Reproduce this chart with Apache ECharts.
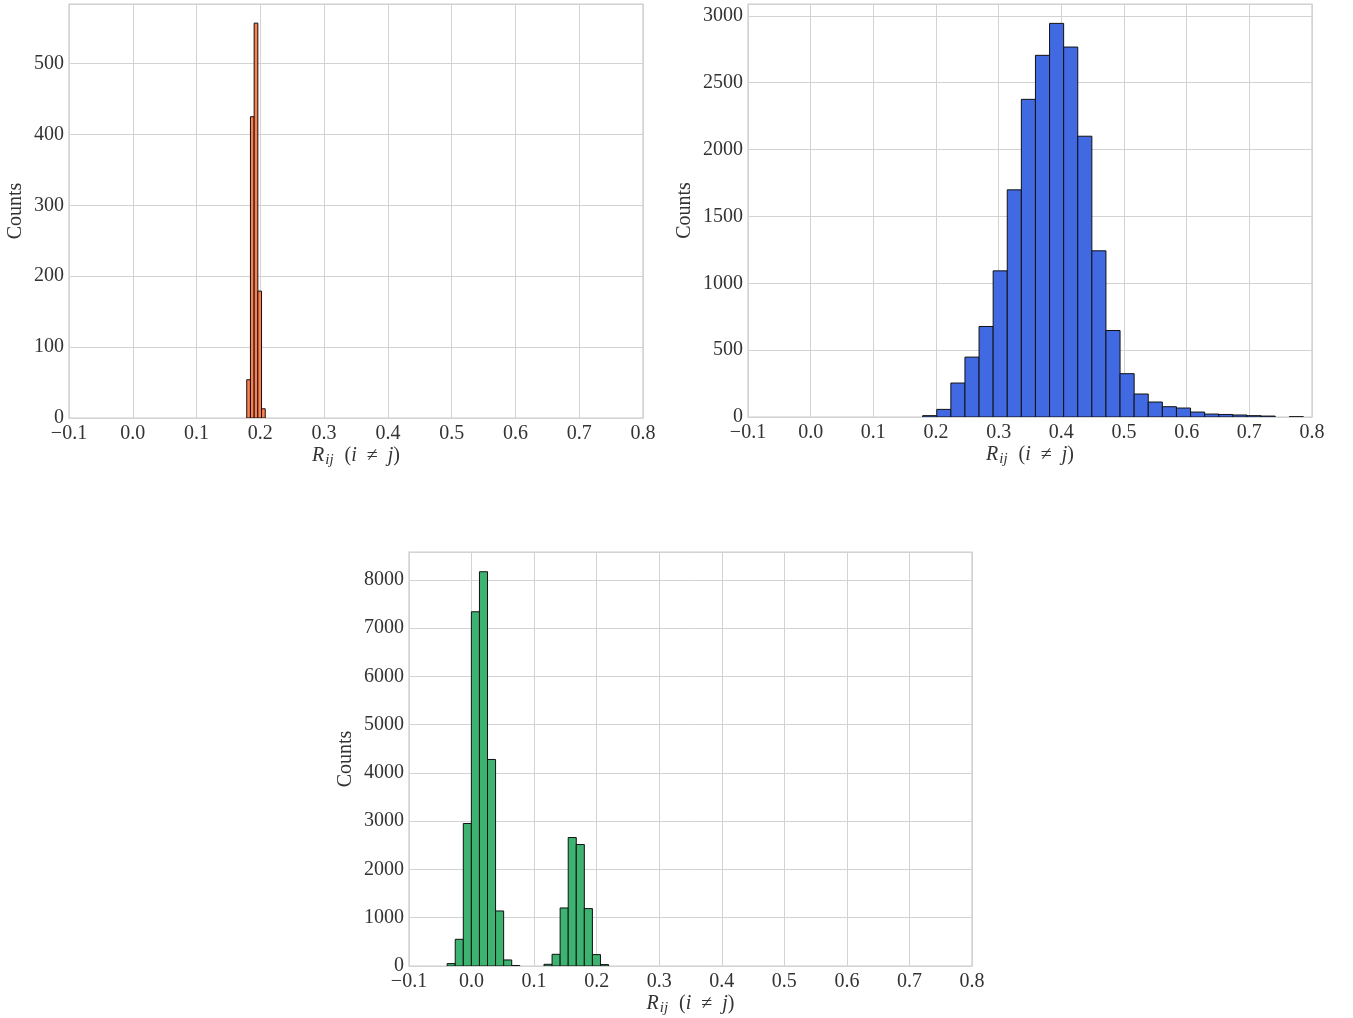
<!DOCTYPE html>
<html>
<head>
<meta charset="utf-8">
<script src="https://cdn.jsdelivr.net/npm/echarts@6/dist/echarts.min.js"></script>
<style>
html,body{margin:0;padding:0;background:#fff;}
#chart{width:1353px;height:1018px;}
</style>
</head>
<body>
<div id="chart"></div>
<script>
// Histogram data (bin start, bin width, counts)
const orangeBinStart = 0.1787;
const orangeBinWidth = 0.0058;
const orangeCounts = [54, 425, 557, 179, 13];

const blueBinStart = 0.1787;
const blueBinWidth = 0.0225;
const blueCounts = [10, 57, 254, 448, 677, 1093, 1699, 2376, 2705, 2944, 2767, 2100, 1243, 647, 324, 172, 112, 77, 67, 37, 22, 19, 15, 10, 7, 0, 2];

const greenBinStart = -0.039;
const greenBinWidth = 0.0129;
const greenCounts = [50, 553, 2951, 7337, 8166, 4278, 1140, 125, 10, 0, 0, 0, 35, 242, 1202, 2661, 2516, 1189, 236, 29];

const xTicks = [-0.1, 0.0, 0.1, 0.2, 0.3, 0.4, 0.5, 0.6, 0.7, 0.8];
const yMaxes = [584, 3089, 8575];
const yIntervals = [100, 500, 1000];

function toBins(start, width, counts) {
  const out = [];
  counts.forEach((c, i) => {
    if (c > 0) out.push([start + i * width, start + (i + 1) * width, c]);
  });
  return out;
}

const FONT = "'Liberation Serif', 'DejaVu Serif', serif";
const TEXT = '#333333';

function renderHist(color) {
  return function (params, api) {
    const p0 = api.coord([api.value(0), api.value(2)]);
    const p1 = api.coord([api.value(1), 0]);
    return {
      type: 'rect',
      shape: { x: p0[0], y: p0[1], width: p1[0] - p0[0], height: p1[1] - p0[1] },
      style: { fill: color, stroke: '#111111', lineWidth: 1 }
    };
  };
}

const grids = [
  { left: 69, top: 4, width: 574, height: 414 },
  { left: 748, top: 4, width: 564, height: 413 },
  { left: 409, top: 552, width: 563, height: 414 }
];
const yNameGaps = [43, 53, 53];

const xAxes = grids.map((g, i) => ({
  type: 'value', gridIndex: i, min: xTicks[0], max: xTicks[xTicks.length - 1], interval: 0.1,
  axisLine: { show: false }, axisTick: { show: false },
  splitLine: { show: true, lineStyle: { color: '#d3d3d3', width: 1 } },
  axisLabel: {
    margin: 6, color: TEXT, fontFamily: FONT, fontSize: 20,
    formatter: v => (v < -1e-9 ? '\u2212' : '') + Math.abs(v).toFixed(1)
  },
  name: '{i|R}{s|ij}  ({i|i}  \u2260  {i|j})',
  nameLocation: 'middle', nameGap: 26,
  nameTextStyle: {
    color: TEXT, fontFamily: FONT, fontSize: 20,
    rich: {
      i: { fontStyle: 'italic', fontFamily: FONT, fontSize: 20, color: TEXT },
      s: { fontStyle: 'italic', fontFamily: FONT, fontSize: 15, color: TEXT, padding: [9, 1, 0, 1] }
    }
  }
}));

const yAxes = grids.map((g, i) => ({
  type: 'value', gridIndex: i, min: 0, max: yMaxes[i], interval: yIntervals[i],
  axisLine: { show: false }, axisTick: { show: false },
  splitLine: { show: true, lineStyle: { color: '#d3d3d3', width: 1 } },
  axisLabel: { margin: 5, color: TEXT, fontFamily: FONT, fontSize: 20, showMaxLabel: false,
    formatter: v => String(Math.round(v)) },
  name: 'Counts', nameLocation: 'middle', nameGap: yNameGaps[i],
  nameTextStyle: { color: TEXT, fontFamily: FONT, fontSize: 20 }
}));

const chart = echarts.init(document.getElementById('chart'));
chart.setOption({
  animation: false,
  backgroundColor: '#ffffff',
  grid: grids.map(g => Object.assign({ show: true, borderColor: '#cccccc', borderWidth: 1.25, backgroundColor: 'transparent' }, g)),
  xAxis: xAxes,
  yAxis: yAxes,
  series: [
    { type: 'custom', xAxisIndex: 0, yAxisIndex: 0, renderItem: renderHist('#FF7F50'),
      encode: { x: [0, 1], y: 2 }, data: toBins(orangeBinStart, orangeBinWidth, orangeCounts), clip: true },
    { type: 'custom', xAxisIndex: 1, yAxisIndex: 1, renderItem: renderHist('#4169E1'),
      encode: { x: [0, 1], y: 2 }, data: toBins(blueBinStart, blueBinWidth, blueCounts), clip: true },
    { type: 'custom', xAxisIndex: 2, yAxisIndex: 2, renderItem: renderHist('#3CB371'),
      encode: { x: [0, 1], y: 2 }, data: toBins(greenBinStart, greenBinWidth, greenCounts), clip: true }
  ]
});
</script>
</body>
</html>
